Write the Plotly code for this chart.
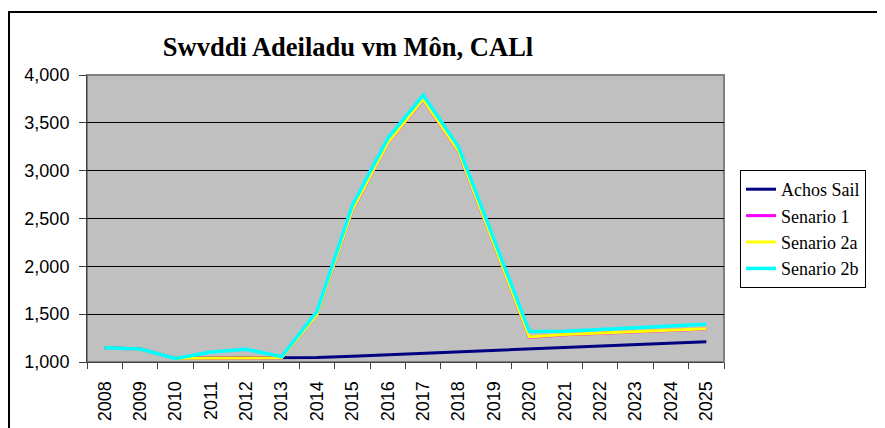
import plotly.graph_objects as go

years = [str(y) for y in range(2008, 2026)]
achos_sail = [1150, 1136, 1040, 1041, 1042, 1044, 1046, 1061, 1076, 1091, 1107, 1121, 1136, 1152, 1167, 1182, 1197, 1212]
senario_1 = [1148, 1134, 1040, 1042, 1042, 1044, 1498, 2586, 3288, 3742, 3196, 2226, 1258, 1284, 1298, 1314, 1329, 1344]
senario_2a = [1148, 1134, 1040, 1042, 1042, 1044, 1500, 2590, 3292, 3746, 3200, 2230, 1262, 1288, 1302, 1318, 1333, 1348]
senario_2b = [1150, 1136, 1038, 1105, 1133, 1056, 1530, 2640, 3338, 3788, 3246, 2280, 1318, 1322, 1340, 1360, 1378, 1394]

series = [
    ("Achos Sail", achos_sail, "#000080", 3),
    ("Senario 1", senario_1, "#FF00FF", 3),
    ("Senario 2a", senario_2a, "#FFFF00", 3),
    ("Senario 2b", senario_2b, "#00FFFF", 3.5),
]

# page has an 8px body margin; work in page pixels and subtract it
OFF = 8
W, H = 885 - OFF, 428 - OFF
L, R, T, B = 87, 724, 75, 362  # plot area in page pixels

SERIF = "Times New Roman, Liberation Serif, serif"
SANS = "Arial, Liberation Sans, sans-serif"

fig = go.Figure()
for name, vals, color, w in series:
    fig.add_trace(go.Scatter(x=years, y=vals, mode="lines", name=name,
                             line=dict(color=color, width=w)))

def px_x(p):
    return (p - L) / (R - L)

def px_y(p):
    return (B - p) / (B - T)

fig.update_layout(
    width=W, height=H,
    margin=dict(l=L - OFF, r=W - (R - OFF), t=T - OFF, b=H - (B - OFF), autoexpand=False),
    paper_bgcolor="white",
    plot_bgcolor="#C0C0C0",
    title=dict(text="<b>Swvddi Adeiladu vm Môn, CALl</b>",
               font=dict(family=SERIF, size=26.5, color="black"),
               xref="paper", x=px_x(348), xanchor="center",
               yref="container", y=1 - (56 - OFF) / H, yanchor="bottom"),
    legend=dict(x=px_x(740), y=px_y(170), xanchor="left", yanchor="top",
                bordercolor="black", borderwidth=1, bgcolor="white",
                font=dict(family=SERIF, size=18, color="black"),
                itemwidth=30, tracegroupgap=0),
    showlegend=True,
    xaxis=dict(type="category", range=[-0.5, 17.5], tickson="boundaries",
               ticks="outside", ticklen=6, tickcolor="#404040",
               tickangle=-90, showgrid=False, showline=True,
               linecolor="#404040", linewidth=1, ticklabelstandoff=11,
               tickfont=dict(family=SANS, size=18, color="black")),
    yaxis=dict(range=[1000, 4000], dtick=500, tickformat=",",
               ticks="outside", ticklen=7, tickcolor="#404040",
               showgrid=True, gridcolor="black", gridwidth=1,
               zeroline=False, showline=True, linecolor="#404040", linewidth=1,
               ticklabelstandoff=6,
               tickfont=dict(family=SANS, size=18, color="black")),
    shapes=[
        dict(type="rect", xref="paper", yref="paper", x0=0, x1=1, y0=0, y1=1,
             line=dict(color="#808080", width=2), layer="below"),
        dict(type="rect", xref="paper", yref="paper",
             x0=px_x(9), x1=px_x(900), y0=px_y(12), y1=px_y(440),
             line=dict(color="black", width=2), layer="above"),
    ],
)

fig.write_html("out.html")
